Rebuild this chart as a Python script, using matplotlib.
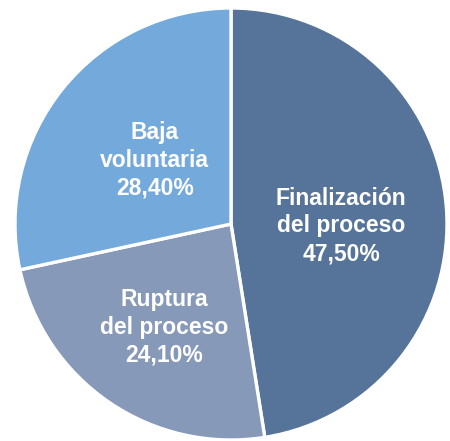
import numpy as np
import matplotlib
matplotlib.use("Agg")
import matplotlib.pyplot as plt

categories = ["Finalización\ndel proceso", "Ruptura\ndel proceso", "Baja\nvoluntaria"]
values = [47.50, 24.10, 28.40]
value_labels = ["47,50%", "24,10%", "28,40%"]
colors = ["#56739A", "#8699B8", "#74A9DC"]
label_radius = [0.51, 0.57, 0.46]
label_angle_offset = [-5.5, 1.7, -1.1]

fig = plt.figure(figsize=(4.5, 4.41), dpi=100)
ax = fig.add_axes([15/450, 1/441, 432/450, 432/441])
wedges, _ = ax.pie(values, colors=colors, startangle=90, counterclock=False,
                   radius=1.0, wedgeprops=dict(edgecolor="white", linewidth=2.4))
ax.set_xlim(-1.0, 1.0)
ax.set_ylim(-1.0, 1.0)
ax.set_aspect("equal")
ax.axis("off")

for w, cat, vl, r, off in zip(wedges, categories, value_labels, label_radius, label_angle_offset):
    mid = np.deg2rad((w.theta1 + w.theta2) / 2 + off)
    ax.text(r * np.cos(mid), r * np.sin(mid), f"{cat}\n{vl}", ha="center", va="center",
            color="white", fontsize=16.5, fontweight="bold", family="Liberation Sans",
            linespacing=1.27)

fig.savefig("out.png", dpi=100)
